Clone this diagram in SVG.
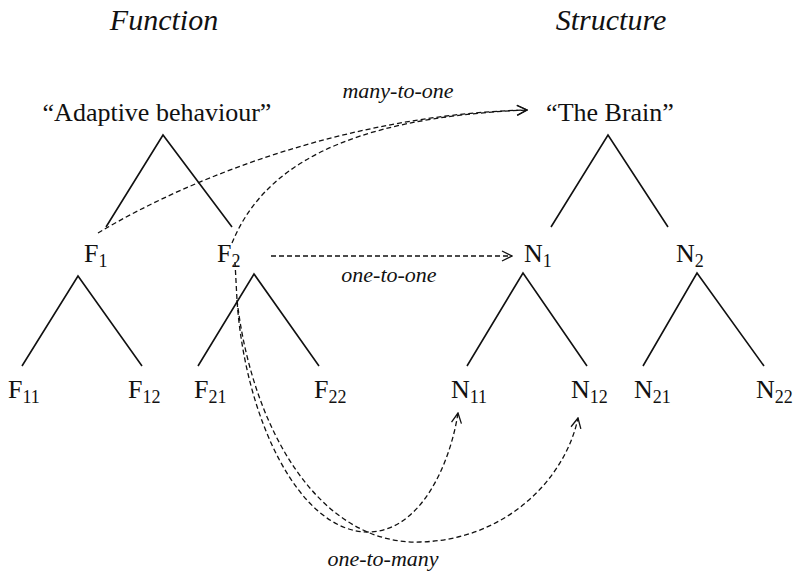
<svg xmlns="http://www.w3.org/2000/svg" width="794" height="576" viewBox="0 0 794 576">
<style>
text{font-family:"Liberation Serif","Times New Roman",serif;fill:#111}
.title{font-size:30px;font-style:italic;text-anchor:middle}
.root{font-size:26px;text-anchor:middle}
.lbl{font-size:26px}
.sub{font-size:18px}
.edge{font-size:22px;font-style:italic;text-anchor:middle}
.tree{stroke:#111;stroke-width:1.6;fill:none}
.dash{stroke:#111;stroke-width:1.3;fill:none;stroke-dasharray:5 3}
</style>
<defs>
<marker id="arr" markerWidth="12" markerHeight="12" refX="11" refY="6" orient="auto" markerUnits="userSpaceOnUse">
<path d="M1,1 L11,6 L1,11" fill="none" stroke="#111" stroke-width="1.3"/>
</marker>
</defs>
<text class="title" x="164" y="30">Function</text>
<text class="title" x="611" y="30">Structure</text>

<g id="adaptive">
<text class="root" x="157" y="121">“Adaptive behaviour”</text>
<path class="tree" d="M106 227 L163 135 L232 227"/>
</g>
<g id="brain">
<text class="root" x="610" y="121">“The Brain”</text>
<path class="tree" d="M551 227 L608 135 L668 227"/>
</g>
<g id="F1">
<text class="lbl" x="84" y="262">F<tspan class="sub" dy="5">1</tspan></text>
<path class="tree" d="M22 366 L78 276 L142 366"/>
</g>
<g id="F2">
<text class="lbl" x="217" y="262">F<tspan class="sub" dy="5">2</tspan></text>
<path class="tree" d="M198 366 L254 274 L319 366"/>
</g>
<g id="N1">
<text class="lbl" x="524" y="262">N<tspan class="sub" dy="5">1</tspan></text>
<path class="tree" d="M467 366 L523 273 L587 366"/>
</g>
<g id="N2">
<text class="lbl" x="676" y="262">N<tspan class="sub" dy="5">2</tspan></text>
<path class="tree" d="M643 366 L697 273 L764 366"/>
</g>
<g id="F11"><text class="lbl" x="8" y="398">F<tspan class="sub" dy="5">11</tspan></text></g>
<g id="F12"><text class="lbl" x="128" y="398">F<tspan class="sub" dy="5">12</tspan></text></g>
<g id="F21"><text class="lbl" x="194" y="398">F<tspan class="sub" dy="5">21</tspan></text></g>
<g id="F22"><text class="lbl" x="314" y="398">F<tspan class="sub" dy="5">22</tspan></text></g>
<g id="N11"><text class="lbl" x="451" y="398">N<tspan class="sub" dy="5">11</tspan></text></g>
<g id="N12"><text class="lbl" x="571" y="398">N<tspan class="sub" dy="5">12</tspan></text></g>
<g id="N21"><text class="lbl" x="634" y="398">N<tspan class="sub" dy="5">21</tspan></text></g>
<g id="N22"><text class="lbl" x="756" y="398">N<tspan class="sub" dy="5">22</tspan></text></g>

<g id="connectors">
<path class="dash" d="M98 233 C200 172 360 114 527 110" marker-end="url(#arr)"/>
<path class="dash" d="M232 243 C262 170 340 118 527 110" marker-end="url(#arr)"/>
<path class="dash" d="M271 256 L512 256" marker-end="url(#arr)"/>
<path class="dash" d="M235 262 L237 300 C245 420 300 532 368 532 C420 532 450 465 458 413" marker-end="url(#arr)"/>
<path class="dash" d="M237 300 C252 430 320 545 420 542 C505 540 565 480 578 418" marker-end="url(#arr)"/>
<text class="edge" x="398" y="98">many-to-one</text>
<text class="edge" x="389" y="282">one-to-one</text>
<text class="edge" x="383" y="566">one-to-many</text>
</g>
</svg>
